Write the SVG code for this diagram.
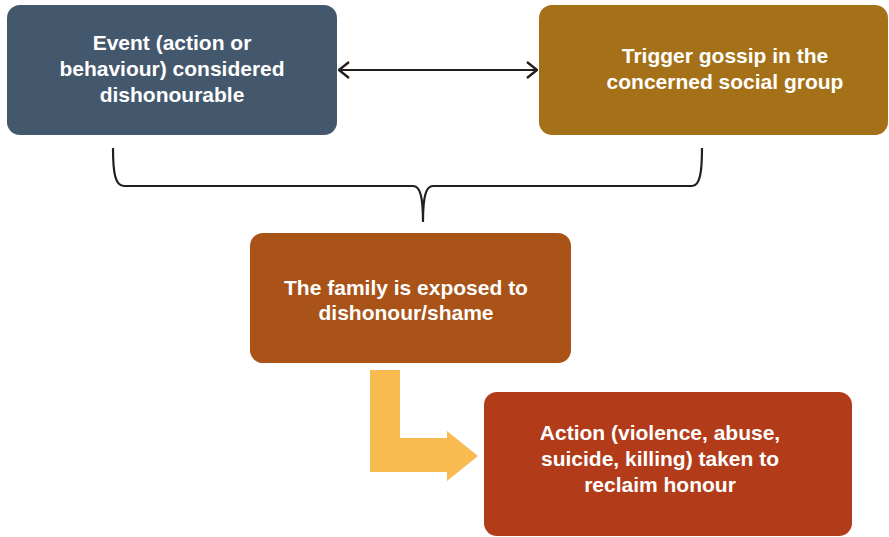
<svg xmlns="http://www.w3.org/2000/svg" width="889" height="537" viewBox="0 0 889 537">
<style>
.lbl{font-family:"Liberation Sans",Arial,sans-serif;font-weight:bold;font-size:21px;fill:#ffffff;text-anchor:middle}
.conn{fill:none;stroke:#231f20;stroke-width:2.2}
</style>
<defs>
<marker id="chev" viewBox="0 0 12 18" refX="11" refY="9" markerWidth="12" markerHeight="18" markerUnits="userSpaceOnUse" orient="auto-start-reverse">
<path d="M1,1 L11,9 L1,17" fill="none" stroke="#231f20" stroke-width="2.4"/>
</marker>
</defs>
<rect width="889" height="537" fill="#ffffff"/>
<g id="node-event">
<rect x="7" y="5" width="330" height="130" rx="13" fill="#44586d"/>
<text class="lbl" x="172" y="50">Event (action or</text>
<text class="lbl" x="172" y="76">behaviour) considered</text>
<text class="lbl" x="172" y="102">dishonourable</text>
</g>
<g id="node-gossip">
<rect x="539" y="5" width="349" height="130" rx="13" fill="#a57118"/>
<text class="lbl" x="725" y="63">Trigger gossip in the</text>
<text class="lbl" x="725" y="89">concerned social group</text>
</g>
<g id="node-family">
<rect x="250" y="233" width="321" height="130" rx="13" fill="#a95319"/>
<text class="lbl" x="406" y="295">The family is exposed to</text>
<text class="lbl" x="406" y="320">dishonour/shame</text>
</g>
<g id="node-action">
<rect x="484" y="392" width="368" height="144" rx="13" fill="#b23c1a"/>
<text class="lbl" x="660" y="440">Action (violence, abuse,</text>
<text class="lbl" x="660" y="466">suicide, killing) taken to</text>
<text class="lbl" x="660" y="492">reclaim honour</text>
</g>
<g id="connectors">
<line class="conn" x1="339" y1="70" x2="537" y2="70" marker-start="url(#chev)" marker-end="url(#chev)"/>
<path class="conn" stroke-width="2.5" d="M113,148 C113,172 115,186 124,186 H413 C420,186 423,196 423,222 C423,196 426,186 433,186 H692 C700,186 702,172 702,148"/>
<polygon points="370,370 400,370 400,438 447,438 447,431 478,456 447,481 447,472 370,472" fill="#f7bb50"/>
</g>
</svg>
